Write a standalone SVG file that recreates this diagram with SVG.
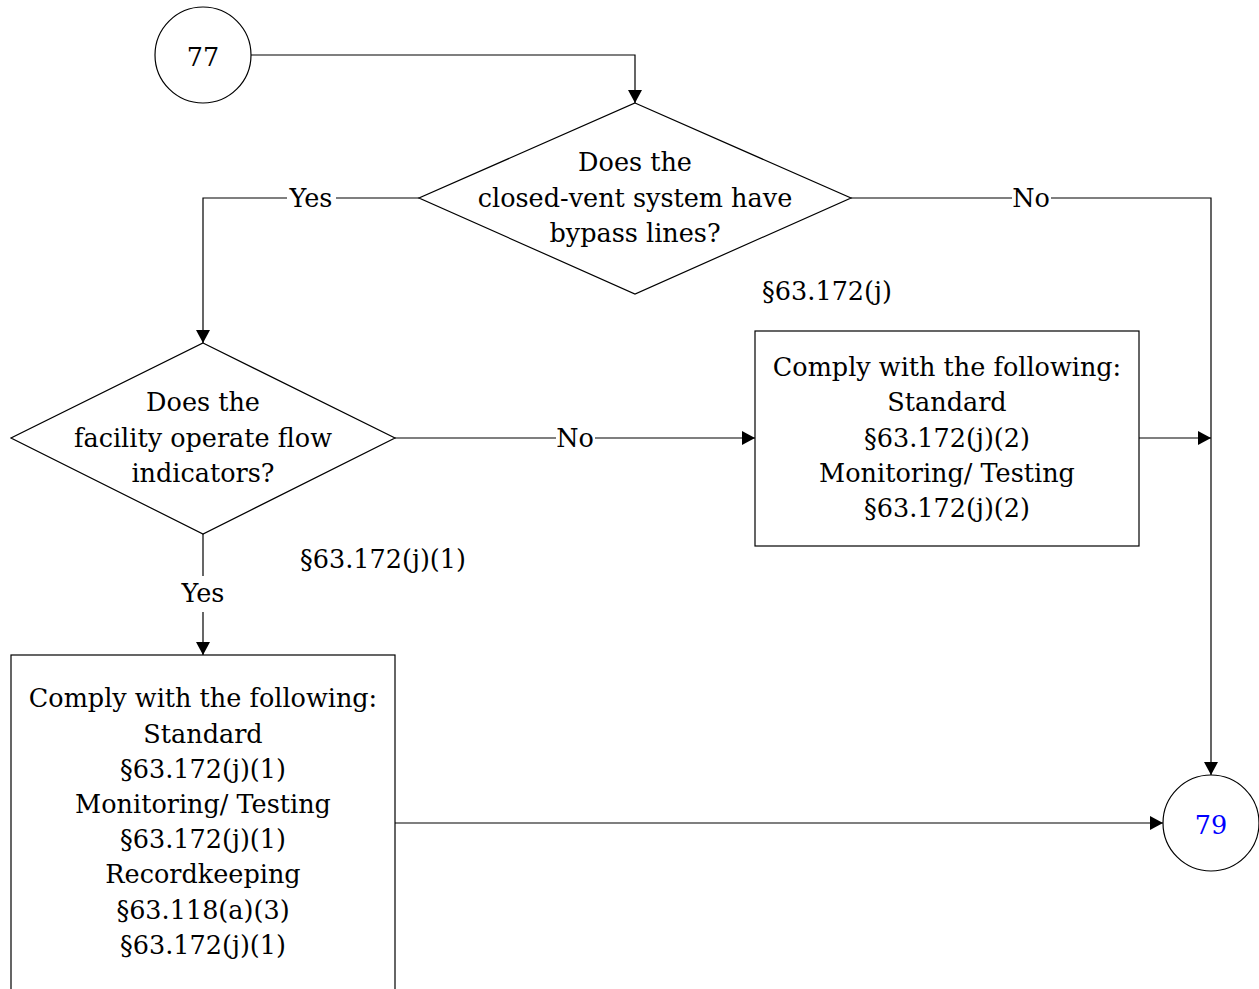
<svg xmlns="http://www.w3.org/2000/svg" width="1259" height="989" viewBox="0 0 1259 989">
<style>
.s{fill:#fff;stroke:#000;stroke-width:1.2}
.c{fill:none;stroke:#000;stroke-width:1.2}
text{font-family:Georgia,"DejaVu Serif",serif;font-size:25.5px;fill:#000;text-anchor:middle}
.blue{fill:#0000ff}
</style>
<defs>
<marker id="a" viewBox="0 0 13 14" refX="13" refY="7" markerWidth="13" markerHeight="14" markerUnits="userSpaceOnUse" orient="auto">
<path d="M0,0 L13,7 L0,14 Z" fill="#000"/>
</marker>
</defs>
<g id="connectors">
<path class="c" d="M251,55 H635 V103" marker-end="url(#a)"/>
<path class="c" d="M419,198 H336"/>
<path class="c" d="M287,198 H203 V343" marker-end="url(#a)"/>
<path class="c" d="M851,198 H1012"/>
<path class="c" d="M1051,198 H1211 V775" marker-end="url(#a)"/>
<path class="c" d="M395,438 H556"/>
<path class="c" d="M595,438 H755" marker-end="url(#a)"/>
<path class="c" d="M1139,438 H1211" marker-end="url(#a)"/>
<path class="c" d="M203,534 V576"/>
<path class="c" d="M203,612 V655" marker-end="url(#a)"/>
<path class="c" d="M395,823 H1163" marker-end="url(#a)"/>
<text x="311" y="207">Yes</text>
<text x="1031" y="207">No</text>
<text x="575" y="447">No</text>
<text x="203" y="602">Yes</text>
<text x="827" y="300">§63.172(j)</text>
<text x="383" y="568">§63.172(j)(1)</text>
</g>
<g id="n77">
<circle class="s" cx="203" cy="55" r="48"/>
<text x="203" y="66">77</text>
</g>
<g id="d1">
<path class="s" d="M635,103 L851,198 L635,294 L419,198 Z"/>
<text x="635" y="171">Does the</text>
<text x="635" y="207">closed-vent system have</text>
<text x="635" y="242">bypass lines?</text>
</g>
<g id="d2">
<path class="s" d="M203,343 L395,438 L203,534 L11,438 Z"/>
<text x="203" y="411">Does the</text>
<text x="203" y="447">facility operate flow</text>
<text x="203" y="482">indicators?</text>
</g>
<g id="b2">
<rect class="s" x="755" y="331" width="384" height="215"/>
<text x="947" y="376">Comply with the following:</text>
<text x="947" y="411">Standard</text>
<text x="947" y="447">§63.172(j)(2)</text>
<text x="947" y="482">Monitoring/ Testing</text>
<text x="947" y="517">§63.172(j)(2)</text>
</g>
<g id="b1">
<rect class="s" x="11" y="655" width="384" height="345"/>
<text x="203" y="707">Comply with the following:</text>
<text x="203" y="743">Standard</text>
<text x="203" y="778">§63.172(j)(1)</text>
<text x="203" y="813">Monitoring/ Testing</text>
<text x="203" y="848">§63.172(j)(1)</text>
<text x="203" y="883">Recordkeeping</text>
<text x="203" y="919">§63.118(a)(3)</text>
<text x="203" y="954">§63.172(j)(1)</text>
</g>
<g id="n79">
<circle class="s" cx="1211" cy="823" r="48"/>
<text class="blue" x="1211" y="834">79</text>
</g>
</svg>
